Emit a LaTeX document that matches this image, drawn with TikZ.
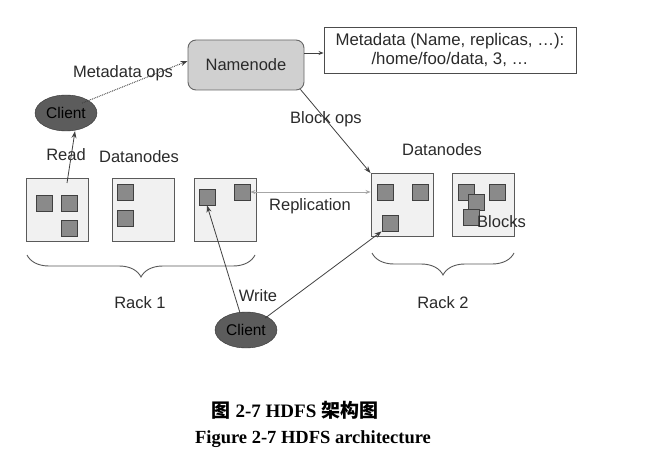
\documentclass[tikz,border=0pt]{standalone}
\usepackage{fontspec}
\setmainfont{Liberation Sans}
\newfontfamily\capfont{Liberation Serif}
\newfontfamily\cjk{Noto Sans CJK SC}
\usetikzlibrary{arrows.meta,decorations.pathreplacing,shapes.geometric}
\definecolor{lbl}{HTML}{2A2A2A}
\definecolor{dnfill}{HTML}{F1F1F1}
\definecolor{dnline}{HTML}{5A5A5A}
\definecolor{blkfill}{HTML}{8A8A8A}
\definecolor{blkline}{HTML}{404040}
\definecolor{nnfill}{HTML}{D0D0D0}
\definecolor{clfill}{HTML}{5C5C5C}
\tikzset{
  txt/.style={font=\fontsize{16.5}{18}\selectfont, text=lbl, inner sep=0pt},
  dnbox/.style={draw=dnline, fill=dnfill, line width=0.9pt, minimum width=62pt, minimum height=63pt, inner sep=0pt},
  blk/.style={draw=blkline, fill=blkfill, line width=0.8pt, minimum width=16pt, minimum height=16pt, inner sep=0pt},
  client/.style={ellipse, draw=black!80, fill=clfill, minimum width=62pt, minimum height=36pt, inner sep=0pt, font=\fontsize{15.5}{17}\selectfont, text=black},
  conn/.style={draw=black!75, line width=0.8pt, -{Stealth[length=7pt,width=5pt]}},
  rack/.style={draw=black!65, line width=0.9pt, decorate, decoration={brace, mirror, amplitude=22pt}},
}
\begin{document}
\begin{tikzpicture}[x=1pt,y=-1pt]
\useasboundingbox (0,0) rectangle (652,462);
% Namenode and metadata
\node[draw=black!60, fill=nnfill, rounded corners=8pt, line width=0.9pt, minimum width=116pt, minimum height=50pt, txt] (nn) at (246,65) {Namenode};
\node[draw=black!70, line width=0.9pt, minimum width=252pt, minimum height=46pt, align=center, txt, font=\fontsize{16.8}{19}\selectfont] (meta) at (450,50) {Metadata (Name, replicas, \ldots):\\/home/foo/data, 3, \ldots};
\draw[conn, -{Stealth[length=5pt,width=4pt]}] (nn.east |- 0,53) coordinate (nnr) -- (meta.west |- nnr);
% client top
\node[client] (c1) at (66,113) {Client};
\draw[conn, densely dotted, line width=1pt] (c1.north east) ++(-6,3) coordinate (c1m) -- (nn.west |- 0,61);
\node[txt] (lmeta) at (123,73) {Metadata ops};
% Rack 1 datanodes
\node[dnbox] (d1) at (57,210) {};
\node[dnbox] (d2) at (143,210) {};
\node[dnbox] (d3) at (225,210) {};
\node[blk] (b11) at (44,203) {};
\node[blk] (b12) at (69,203) {};
\node[blk] (b13) at (69,228) {};
\node[blk] (b21) at (125,192) {};
\node[blk] (b22) at (125,218) {};
\node[blk] (b31) at (207,197) {};
\node[blk] (b32) at (242,192) {};
% Rack 2 datanodes
\node[dnbox] (d4) at (402,205) {};
\node[dnbox] (d5) at (483,205) {};
\node[blk] (b41) at (385,192) {};
\node[blk] (b42) at (420,192) {};
\node[blk] (b43) at (390,223) {};
\node[blk] (b51) at (466,192) {};
\node[blk] (b52) at (497,192) {};
\node[blk] (b53) at (476,202) {};
\node[blk] (b54) at (471,217) {};
\node[txt, anchor=west] (lblocks) at (477,222) {Blocks};
% labels
\node[txt] (ldn1) at (139,157) {Datanodes};
\node[txt] (ldn2) at (442,150) {Datanodes};
\node[txt] (lread) at (66,155) {Read};
% read
\coordinate (rs) at (67,183);
\draw[conn] (rs) -- (c1.south -| 75,0);
% block ops
\draw[conn] (nn.south east) ++(-4,-1) coordinate (nnse) -- (d4.north west);
\node[txt] (lbops) at (326,119) {Block ops};
% replication
\draw[draw=black!35, line width=0.8pt, {Stealth[length=5pt,width=4pt]}-{Stealth[length=5pt,width=4pt]}] (b32.east) -- (d4.west |- b32.east);
\node[txt] (lrep) at (310,206) {Replication};
% braces
\draw[rack] (27,255) coordinate (r1a) -- (255,255) coordinate (r1b);
\draw[rack] (372,253) coordinate (r2a) -- (514,253) coordinate (r2b);
\node[txt] (lr1) at (140,303) {Rack 1};
\node[txt] (lr2) at (443,303) {Rack 2};
% client bottom
\node[client] (c2) at (246,330) {Client};
\draw[conn] (c2.north) ++(-6,1) coordinate (c2a) -- (b31.south);
\draw[conn] (c2.north east) ++(-3,1) coordinate (c2b) -- (b43.south west);
\node[txt] (lwrite) at (258,296) {Write};
% captions
\node[inner sep=0pt, font=\capfont\fontsize{19}{21}\selectfont\bfseries] (cap1) at (295,410) {{\cjk\bfseries 图} 2-7 HDFS {\cjk\bfseries 架构图}};
\node[inner sep=0pt, font=\capfont\fontsize{18.5}{20}\selectfont\bfseries] (cap2) at (313,439) {Figure 2-7 HDFS architecture};
\end{tikzpicture}
\end{document}
